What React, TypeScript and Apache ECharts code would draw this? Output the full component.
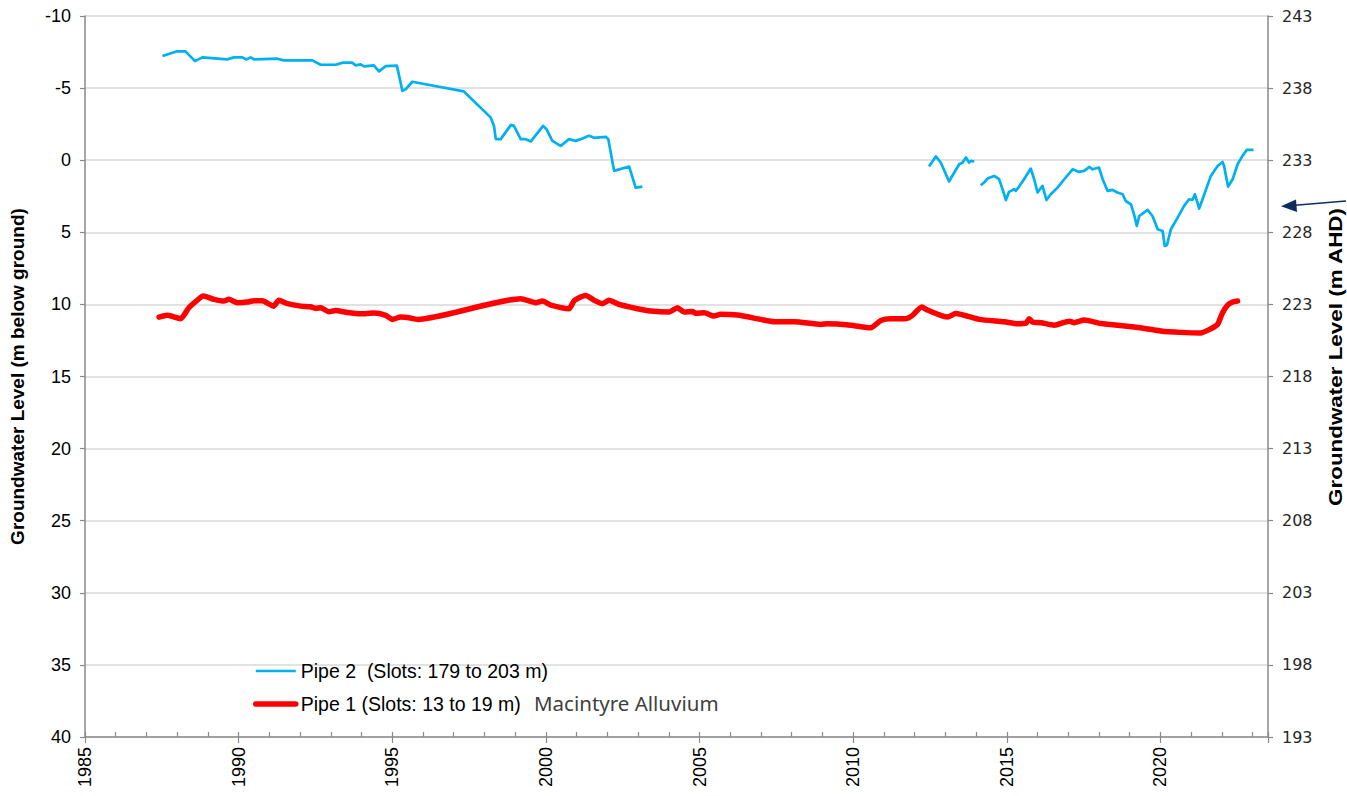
import React, { useEffect, useRef } from "react";
import * as echarts from "echarts";

// Pipe 2 (deep) – depth below ground (m); null = gap in record
const pipe2Year = [
  1987.52, 1988.0, 1988.27, 1988.58, 1988.82, 1989.63, 1989.85, 1990.12, 1990.26, 1990.39,
  1990.5, 1991.26, 1991.47, 1992.4, 1992.67, 1993.16, 1993.38, 1993.7, 1993.81, 1993.97,
  1994.08, 1994.4, 1994.57, 1994.79, 1995.15, 1995.33, 1995.44, 1995.65, 1997.33, 1998.2,
  1998.31, 1998.37, 1998.53, 1998.86, 1998.96, 1999.18, 1999.34, 1999.51, 1999.91, 2000.02,
  2000.21, 2000.48, 2000.75, 2000.97, 2001.19, 2001.4, 2001.57, 2001.95, 2002.03, 2002.22,
  2002.71, 2002.92, 2003.14,
  2008.0,
  2012.47, 2012.69, 2012.85, 2013.12, 2013.29, 2013.45, 2013.56, 2013.67, 2013.77, 2013.83,
  2013.94,
  2014.05,
  2014.15, 2014.26, 2014.37, 2014.59, 2014.75, 2014.86, 2014.97, 2015.07, 2015.24, 2015.29,
  2015.4, 2015.56, 2015.78, 2015.89, 2016.0, 2016.16, 2016.29, 2016.43, 2016.65, 2016.87,
  2017.14, 2017.35, 2017.52, 2017.68, 2017.79, 2018.0, 2018.12, 2018.28, 2018.44, 2018.6,
  2018.77, 2018.87, 2019.04, 2019.14, 2019.23, 2019.31, 2019.58, 2019.74, 2019.91, 2020.07,
  2020.14, 2020.21, 2020.34, 2020.56, 2020.77, 2020.93, 2021.04, 2021.12, 2021.26, 2021.37,
  2021.64, 2021.86, 2022.02, 2022.07, 2022.2, 2022.35, 2022.51, 2022.67, 2022.81, 2023.03,
];
const pipe2Depth = [
  -7.22, -7.55, -7.55, -6.87, -7.13, -6.99, -7.13, -7.13, -6.99, -7.13,
  -6.99, -7.04, -6.92, -6.92, -6.62, -6.62, -6.76, -6.76, -6.58, -6.65,
  -6.51, -6.58, -6.16, -6.53, -6.56, -4.81, -4.93, -5.44, -4.77, -2.97,
  -2.38, -1.46, -1.46, -2.45, -2.38, -1.46, -1.46, -1.3, -2.38, -2.15,
  -1.34, -0.99, -1.46, -1.34, -1.5, -1.69, -1.55, -1.62, -1.46, 0.74,
  0.44, 1.9, 1.83,
  null,
  0.44, -0.26, 0.16, 1.48, 0.85, 0.28, 0.16, -0.19, 0.16, 0.05,
  0.09,
  null,
  1.74, 1.55, 1.27, 1.09, 1.32, 2.01, 2.76, 2.2, 2.01, 2.13,
  1.83, 1.32, 0.58, 1.32, 2.24, 1.78, 2.76, 2.36, 1.9, 1.32,
  0.63, 0.81, 0.74, 0.47, 0.63, 0.51, 1.32, 2.13, 2.06, 2.24,
  2.36, 2.83, 3.06, 3.75, 4.56, 3.87, 3.45, 3.87, 4.79, 4.91,
  5.95, 5.9, 4.79, 3.98, 3.17, 2.71, 2.76, 2.36, 3.35, 2.71,
  1.09, 0.4, 0.12, 0.4, 1.83, 1.32, 0.28, -0.3, -0.72, -0.72,
];

// Pipe 1 (shallow) – depth below ground (m)
const pipe1Year = [
  1987.41, 1987.68, 1988.11, 1988.38, 1988.6, 1988.85, 1989.2, 1989.52, 1989.68, 1989.96,
  1990.28, 1990.5, 1990.77, 1991.13, 1991.31, 1991.59, 1992.02, 1992.34, 1992.51, 1992.67,
  1992.94, 1993.16, 1993.54, 1993.97, 1994.4, 1994.79, 1995.0, 1995.27, 1995.54, 1995.82,
  1999.18, 1999.67, 1999.89, 2000.16, 2000.75, 2000.91, 2001.13, 2001.3, 2001.57, 2001.84,
  2002.05, 2002.38, 2002.98, 2003.41, 2004.01, 2004.28, 2004.5, 2004.77, 2004.88, 2005.15,
  2005.47, 2005.69, 2006.23, 2006.99, 2007.43, 2008.08, 2008.95, 2009.16, 2009.92, 2010.57,
  2010.9, 2011.22, 2011.71, 2011.93, 2012.23, 2012.42, 2013.07, 2013.34, 2014.1, 2014.91,
  2015.35, 2015.62, 2015.73, 2015.84, 2016.11, 2016.54, 2017.03, 2017.19, 2017.52, 2018.06,
  2019.14, 2020.01, 2020.66, 2021.31, 2021.64, 2021.86, 2022.02, 2022.18, 2022.35, 2022.51,
];
const pipe1Depth = [
  10.88, 10.76, 10.99, 10.23, 9.81, 9.42, 9.65, 9.77, 9.65, 9.88,
  9.84, 9.74, 9.74, 10.12, 9.72, 9.95, 10.12, 10.16, 10.28, 10.23,
  10.51, 10.42, 10.56, 10.65, 10.6, 10.76, 11.04, 10.88, 10.92, 11.04,
  9.6, 9.88, 9.77, 10.05, 10.3, 9.77, 9.49, 9.38, 9.72, 9.95,
  9.72, 10.0, 10.3, 10.46, 10.53, 10.23, 10.53, 10.49, 10.62, 10.58,
  10.81, 10.69, 10.74, 11.04, 11.2, 11.2, 11.39, 11.34, 11.44, 11.62,
  11.11, 10.99, 10.99, 10.76, 10.18, 10.39, 10.88, 10.63, 11.04, 11.2,
  11.34, 11.3, 10.99, 11.23, 11.27, 11.44, 11.16, 11.27, 11.09, 11.32,
  11.57, 11.84, 11.94, 11.98, 11.69, 11.39, 10.58, 10.07, 9.84, 9.77,
];

const PIPE2_NAME = "Pipe 2  (Slots: 179 to 203 m)";
const PIPE1_NAME = "Pipe 1 (Slots: 13 to 19 m)";
const LEFT_TITLE = "Groundwater Level (m below ground)";
const RIGHT_TITLE = "Groundwater Level (m AHD)";
const NOTE = "Macintyre Alluvium";

const FONT = "'Liberation Sans', Arial, sans-serif";
const AXIS_GREY = "#8a8a8a";
const BLUE = "#00b0f0";
const RED = "#ff0000";

export default function App() {
  const ref = useRef<HTMLDivElement>(null);

  useEffect(() => {
    document.body.style.margin = "0";
    const chart = echarts.init(ref.current!, null, { renderer: "svg" });
    const pipe2Data = pipe2Year.map((x, i) => [x, pipe2Depth[i] === null ? "-" : pipe2Depth[i]]);
    const pipe1Data = pipe1Year.map((x, i) => [x, pipe1Depth[i]]);

    chart.setOption({
      animation: false,
      backgroundColor: "#ffffff",
      grid: { left: 85, right: 79, top: 16, bottom: 59, containLabel: false, outerBoundsMode: "none" },
      legend: {
        orient: "vertical",
        left: 253,
        top: 661,
        padding: 0,
        itemWidth: 40,
        itemHeight: 20,
        itemGap: 13,
        itemStyle: { opacity: 0 },
        data: [
          { name: PIPE2_NAME, lineStyle: { color: BLUE, width: 2.7 } },
          { name: PIPE1_NAME, lineStyle: { color: RED, width: 5.5, cap: "round" } },
        ],
        textStyle: { fontFamily: FONT, fontSize: 19.5, color: "#000", lineHeight: 20 },
      },
      xAxis: [
        {
          type: "value",
          min: 1985,
          max: 2023.5,
          interval: 1,
          axisLine: { show: true, onZero: false, lineStyle: { color: AXIS_GREY, width: 1.5 } },
          axisTick: { show: true, inside: true, length: 5, lineStyle: { color: AXIS_GREY, width: 1.2 } },
          axisLabel: { show: false },
          splitLine: { show: false },
        },
        {
          type: "value",
          min: 1985,
          max: 2023.5,
          interval: 5,
          position: "bottom",
          axisLine: { show: false, onZero: false },
          axisTick: { show: true, length: 6, lineStyle: { color: AXIS_GREY, width: 1.2 } },
          axisLabel: {
            rotate: 90,
            margin: 10,
            fontFamily: FONT,
            fontSize: 18,
            color: "#000",
            formatter: (v: number) => (Math.abs(v % 5) < 1e-9 ? String(v) : ""),
          },
          splitLine: { show: false },
        },
      ],
      yAxis: [
        {
          type: "value",
          inverse: true,
          min: -10,
          max: 40,
          interval: 5,
          name: LEFT_TITLE,
          nameLocation: "middle",
          nameRotate: 90,
          nameGap: 58,
          nameTextStyle: { fontFamily: FONT, fontSize: 19, fontWeight: "bold", color: "#000" },
          axisLine: { show: true, onZero: false, lineStyle: { color: AXIS_GREY, width: 1.5 } },
          axisTick: { show: true, length: 5, lineStyle: { color: AXIS_GREY, width: 1.2 } },
          axisLabel: { margin: 14, fontFamily: FONT, fontSize: 18, color: "#000" },
          splitLine: { show: true, lineStyle: { color: "#d9d9d9", width: 1.5 } },
        },
        {
          type: "value",
          position: "right",
          min: 193,
          max: 243,
          interval: 5,
          axisLine: { show: true, onZero: false, lineStyle: { color: AXIS_GREY, width: 1.5 } },
          axisTick: { show: true, length: 5, lineStyle: { color: AXIS_GREY, width: 1.2 } },
          axisLabel: { margin: 14, fontFamily: "'DejaVu Sans', sans-serif", fontSize: 16, color: "#262626" },
          splitLine: { show: false },
        },
      ],
      series: [
        {
          name: PIPE2_NAME,
          type: "line",
          xAxisIndex: 0,
          yAxisIndex: 0,
          data: pipe2Data,
          symbol: "none",
          connectNulls: false,
          lineStyle: { color: BLUE, width: 2.7, join: "round" },
          itemStyle: { color: BLUE },
          z: 3,
        },
        {
          name: PIPE1_NAME,
          type: "line",
          xAxisIndex: 0,
          yAxisIndex: 0,
          data: pipe1Data,
          symbol: "none",
          smooth: 0.2,
          lineStyle: { color: RED, width: 5.5, join: "round", cap: "round" },
          itemStyle: { color: RED },
          z: 4,
        },
      ],
      graphic: [
        {
          type: "text",
          x: 1335,
          y: 357,
          rotation: Math.PI / 2,
          scaleX: 1.18,
          style: {
            text: RIGHT_TITLE,
            fontFamily: FONT,
            fontSize: 19,
            fontWeight: "bold",
            fill: "#000",
            align: "center",
            verticalAlign: "middle",
          },
        },
        {
          type: "text",
          x: 534,
          y: 703,
          style: {
            text: NOTE,
            fontFamily: "'Noto Sans', sans-serif",
            fontSize: 20.5,
            fill: "#404040",
            align: "left",
            verticalAlign: "middle",
          },
        },
        {
          type: "line",
          shape: { x1: 1346, y1: 201, x2: 1292, y2: 205.4 },
          style: { stroke: "#0e2d5e", lineWidth: 1.5 },
        },
        {
          type: "polygon",
          shape: { points: [[1281, 206.3], [1296, 199.5], [1297, 212]] },
          style: { fill: "#0e2d5e" },
        },
      ],
    });
    return () => chart.dispose();
  }, []);

  return <div ref={ref} style={{ position: "fixed", left: 0, top: 0, width: 1347, height: 796 }} />;
}
